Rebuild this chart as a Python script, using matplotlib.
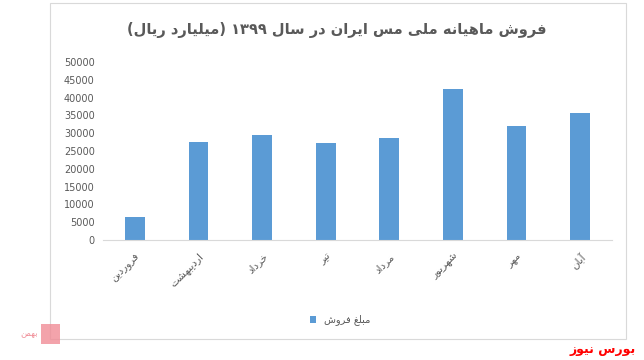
import matplotlib
matplotlib.use('Agg')
import matplotlib.pyplot as plt
from matplotlib.patches import Rectangle

# data
months = ['فروردین', 'اردیبهشت', 'خرداد', 'تیر', 'مرداد', 'شهریور', 'مهر', 'آبان']
sales = [6500, 27600, 29500, 27300, 28700, 42500, 32000, 35700]
yticks = list(range(0, 50001, 5000))
title = 'فروش ماهیانه ملی مس ایران در سال ۱۳۹۹ (میلیارد ریال)'
series_name = 'مبلغ فروش'
source = 'بورس نیوز'

# arabic presentation forms: isolated, final, initial, medial
FORMS = {
    'ا': ('\uFE8D', '\uFE8E', None, None),
    'آ': ('\uFE81', '\uFE82', None, None),
    'د': ('\uFEA9', '\uFEAA', None, None),
    'ر': ('\uFEAD', '\uFEAE', None, None),
    'ز': ('\uFEAF', '\uFEB0', None, None),
    'و': ('\uFEED', '\uFEEE', None, None),
    'ب': ('\uFE8F', '\uFE90', '\uFE91', '\uFE92'),
    'ت': ('\uFE95', '\uFE96', '\uFE97', '\uFE98'),
    'خ': ('\uFEA5', '\uFEA6', '\uFEA7', '\uFEA8'),
    'س': ('\uFEB1', '\uFEB2', '\uFEB3', '\uFEB4'),
    'ش': ('\uFEB5', '\uFEB6', '\uFEB7', '\uFEB8'),
    'غ': ('\uFECD', '\uFECE', '\uFECF', '\uFED0'),
    'ف': ('\uFED1', '\uFED2', '\uFED3', '\uFED4'),
    'ل': ('\uFEDD', '\uFEDE', '\uFEDF', '\uFEE0'),
    'م': ('\uFEE1', '\uFEE2', '\uFEE3', '\uFEE4'),
    'ن': ('\uFEE5', '\uFEE6', '\uFEE7', '\uFEE8'),
    'ه': ('\uFEE9', '\uFEEA', '\uFEEB', '\uFEEC'),
    'ی': ('\uFBFC', '\uFBFD', '\uFBFE', '\uFBFF'),
}
MIRROR = {'(': ')', ')': '('}


def fa(text):
    out = []
    n = len(text)
    for i, c in enumerate(text):
        if c not in FORMS:
            out.append(MIRROR.get(c, c))
            continue
        prev = text[i - 1] if i > 0 else ''
        nxt = text[i + 1] if i < n - 1 else ''
        join_prev = prev in FORMS and FORMS[prev][2] is not None
        join_next = FORMS[c][2] is not None and nxt in FORMS
        iso, fin, ini, med = FORMS[c]
        if join_prev and join_next:
            out.append(med)
        elif join_prev:
            out.append(fin)
        elif join_next:
            out.append(ini)
        else:
            out.append(iso)
    vis = out[::-1]
    # put digit runs back in LTR order
    res, run = [], []
    for ch in vis:
        if ch.isdigit():
            run.append(ch)
        else:
            res.extend(run[::-1])
            run = []
            res.append(ch)
    res.extend(run[::-1])
    return ''.join(res)


plt.rcParams['font.family'] = ['DejaVu Sans']
grey = '#595959'

fig = plt.figure(figsize=(6.44, 3.6), dpi=100)
ax = fig.add_axes([103 / 644, 120 / 360, 509 / 644, 178 / 360])

x = list(range(len(months)))
bars = ax.bar(x, sales, width=0.31, color='#5b9bd5', zorder=2)

ax.set_xlim(-0.5, len(months) - 0.5)
ax.set_ylim(0, 50000)
ax.set_yticks(yticks)
ax.set_yticklabels([str(v) for v in yticks], fontsize=7, color=grey)
ax.set_xticks(x)
ax.set_xticklabels([fa(m) for m in months], rotation=45, ha='right',
                   rotation_mode='anchor', fontsize=7.5, color=grey)
ax.tick_params(axis='both', length=0, pad=6)
ax.tick_params(axis='x', pad=8)
for s in ['top', 'right', 'left']:
    ax.spines[s].set_visible(False)
ax.spines['bottom'].set_color('#d9d9d9')

fig.text(337 / 644, 1 - 30 / 360, fa(title), ha='center', va='center',
         fontsize=10.5, fontweight='bold', color=grey)

fig.legend([bars], [fa(series_name)], loc='center',
           bbox_to_anchor=(340 / 644, 1 - 320 / 360), frameon=False,
           fontsize=7, handlelength=0.7, handleheight=0.7, handletextpad=0.8,
           labelcolor=grey)

# chart frame
fig.add_artist(Rectangle((50 / 644, 1 - 339 / 360), 576 / 644, 336 / 360,
                         transform=fig.transFigure, fill=False,
                         edgecolor='#d9d9d9', linewidth=0.8))

# logos
fig.add_artist(Rectangle((41 / 644, 1 - 344 / 360), 19 / 644, 20 / 360,
                         transform=fig.transFigure, facecolor='#f08c96',
                         edgecolor='none', alpha=0.8))
fig.text(38 / 644, 1 - 334 / 360, fa('بهمن'), ha='right', va='center',
         fontsize=6, color='#f08c96')
fig.text(636 / 644, 1 - 349 / 360, fa(source), ha='right', va='center',
         fontsize=9, fontweight='bold', color='#ff0000')

fig.savefig('out.png', dpi=100)
